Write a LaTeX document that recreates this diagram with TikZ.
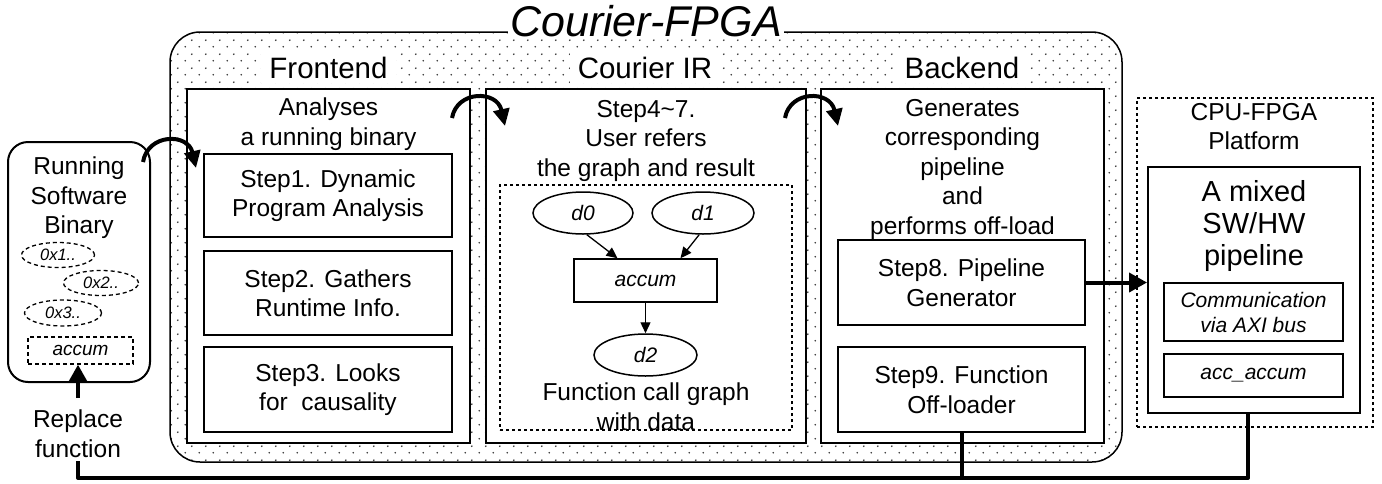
\documentclass[tikz,border=0pt]{standalone}
\usepackage{fontspec}
\setmainfont{Liberation Sans}
\usetikzlibrary{arrows.meta,patterns.meta,shapes.geometric,calc}

\tikzdeclarepattern{
  name=stagdots,
  type=uncolored,
  bottom left={(0pt,0pt)},
  top right={(14pt,14pt)},
  tile size={(14pt,14pt)},
  code={
    \fill (3.5pt,3.5pt) circle (0.95pt);
    \fill (10.5pt,10.5pt) circle (0.95pt);
  }
}

\newcommand{\FtTitle}{\fontsize{43}{50}\selectfont\itshape}
\newcommand{\FtHead}{\fontsize{29.5}{35}\selectfont}
\newcommand{\FtBody}{\fontsize{24.5}{29.5}\selectfont}
\newcommand{\FtBig}{\fontsize{29}{32}\selectfont}
\newcommand{\FtGraph}{\fontsize{21}{25}\selectfont\itshape}
\newcommand{\FtHex}{\fontsize{16.5}{19}\selectfont\itshape}
\newcommand{\FtAcc}{\fontsize{19}{22}\selectfont\itshape}

\tikzset{
  outerbox/.style={draw, line width=1.5pt, rounded corners=30pt, preaction={fill=white},
    pattern=stagdots, pattern color=black!80, minimum width=952pt, minimum height=430pt, inner sep=0pt},
  titlenode/.style={fill=white, font=\FtTitle, inner xsep=2pt, inner ysep=1pt, anchor=base},
  panel/.style={draw, fill=white, line width=2pt, inner sep=0pt, minimum height=354pt},
  hdr/.style={fill=white, font=\FtHead, inner xsep=8pt, inner ysep=5pt, anchor=base},
  txt/.style={font=\FtBody, align=center, inner sep=0pt, anchor=north},
  stepbox/.style={draw, fill=white, line width=2pt, inner sep=0pt, align=center, font=\FtBody},
  dashbox/.style={draw, line width=1.5pt, dash pattern=on 3pt off 3pt, inner sep=0pt},
  gell/.style={draw, ellipse, line width=1.5pt, inner sep=0pt, font=\FtGraph},
  grect/.style={draw, line width=1.5pt, inner sep=0pt, font=\FtGraph},
  garrow/.style={line width=1.3pt, -{Triangle[length=11pt,width=10pt]}},
  solidbox/.style={draw, line width=2pt, inner sep=0pt},
  smallbox/.style={draw, line width=2pt, inner sep=0pt, align=center, font=\FtGraph},
  binbox/.style={draw, line width=2pt, rounded corners=20pt, inner sep=0pt, minimum width=142pt, minimum height=240pt},
  hexell/.style={draw, ellipse, line width=1.3pt, dash pattern=on 4pt off 3pt, inner sep=0pt, font=\FtHex},
  accbox/.style={draw, line width=1.3pt, dash pattern=on 4pt off 3pt, inner sep=0pt, font=\FtAcc},
  bigarrow/.style={line width=4pt, -{Triangle[length=18pt,width=19pt]}},
  curvearrow/.style={line width=4pt, -{Triangle[length=17pt,width=16pt]}},
  thickln/.style={line width=4pt, line join=round},
}

\begin{document}
\begin{tikzpicture}[x=1pt,y=-1pt]
\useasboundingbox (0,0) rectangle (1382,483);

% outer Courier-FPGA frame
\node[outerbox] (outer) at (646,247) {};
\node[titlenode] (title) at (646,36) {Courier-FPGA};

% panels
\node[panel, minimum width=283pt] (fe) at (328.5,266) {};
\node[panel, minimum width=320pt] (ir) at (646,266) {};
\node[panel, minimum width=283pt] (be) at (962.5,266) {};
\node[hdr] (feh) at (328.5,78) {Frontend};
\node[hdr] (irh) at (645,78) {Courier IR};
\node[hdr] (beh) at (962,78) {Backend};

% Frontend
\node[txt] (fet) at (328.5,98) {Analyses\\a running binary};
\node[stepbox, minimum width=248pt, minimum height=83pt] (s1) at (328,195.5) {Step1. Dynamic\\Program Analysis};
\node[stepbox, minimum width=248pt, minimum height=84pt] (s2) at (328,293) {Step2. Gathers\\Runtime Info.};
\node[stepbox, minimum width=248pt, minimum height=85pt] (s3) at (328,389.5) {Step3. Looks\\for\ \ causality};

% Courier IR
\node[txt] (irt) at (646,100) {Step4\textasciitilde 7.\\User refers\\the graph and result};
\node[dashbox, minimum width=292pt, minimum height=245pt] (gbox) at (646,307.5) {};
\node[gell, minimum width=100pt, minimum height=42pt] (d0) at (583,213) {d0};
\node[gell, minimum width=102pt, minimum height=42pt] (d1) at (703,213) {d1};
\node[grect, minimum width=143pt, minimum height=43pt] (acc) at (645.5,280.5) {accum};
\node[gell, minimum width=103pt, minimum height=42pt] (d2) at (645.5,355) {d2};
\draw[garrow] (d0.-80) -- ([xshift=-28pt]acc.north);
\draw[garrow] (d1.-100) -- ([xshift=35pt]acc.north);
\draw[garrow] (acc.south) -- (d2.north);
\node[txt] (gcap) at (646,383) {Function call graph\\with data};

% Backend
\node[txt] (bet) at (962.5,99) {Generates\\corresponding\\pipeline\\and\\performs off-load};
\node[stepbox, minimum width=247pt, minimum height=85pt] (s8) at (961.5,282.5) {Step8. Pipeline\\Generator};
\node[stepbox, minimum width=247pt, minimum height=85pt] (s9) at (961.5,389.5) {Step9. Function\\Off-loader};

% CPU-FPGA platform
\node[dashbox, minimum width=236pt, minimum height=329pt] (pf) at (1255,262.5) {};
\node[txt] (pft) at (1254,103) {CPU-FPGA\\Platform};
\node[solidbox, minimum width=212pt, minimum height=246pt] (plat) at (1254,290) {};
\node[txt, font=\FtBig] (platt) at (1254,180) {A mixed\\SW/HW\\pipeline};
\node[smallbox, minimum width=179pt, minimum height=58pt] (comm) at (1253.5,312) {Communication\\via AXI bus};
\node[smallbox, minimum width=179pt, minimum height=43pt] (accacc) at (1253.5,375.5) {acc\_accum};

% Running software binary
\node[binbox] (bin) at (79,262) {};
\node[txt] (bint) at (79,157) {Running\\Software\\Binary};
\node[hexell, minimum width=73pt, minimum height=25pt] (h1) at (58,255) {0x1..};
\node[hexell, minimum width=75pt, minimum height=25pt] (h2) at (101,283) {0x2..};
\node[hexell, minimum width=77pt, minimum height=26pt] (h3) at (63,313) {0x3..};
\node[accbox, minimum width=105pt, minimum height=27pt] (acb) at (80.5,350.5) {accum};
\node[txt] (rep) at (78,410) {Replace\\function};

% connectors
\draw[bigarrow] (s8.east) -- (s8.east -| plat.west);
\draw[bigarrow] ([yshift=12pt]rep.north) -- (rep.north |- acb.south);

\coordinate (fbc) at (78,478);
\draw[thickln] ([xshift=-6pt]plat.south) |- (fbc) -- ([yshift=-3pt]rep.south);
\draw[thickln] (s9.south) -- (s9.south |- fbc);

\coordinate (c1s) at (143,162);
\coordinate (c1e) at (196,168);
\coordinate (c2s) at (452,118);
\coordinate (c2e) at (505,126);
\coordinate (c3s) at (785,118);
\coordinate (c3e) at (838,126);
\draw[curvearrow] (c1s) .. controls (148,133) and (188,133) .. (c1e);
\draw[curvearrow] (c2s) .. controls (457,90) and (497,90) .. (c2e);
\draw[curvearrow] (c3s) .. controls (790,90) and (830,90) .. (c3e);
\end{tikzpicture}
\end{document}
